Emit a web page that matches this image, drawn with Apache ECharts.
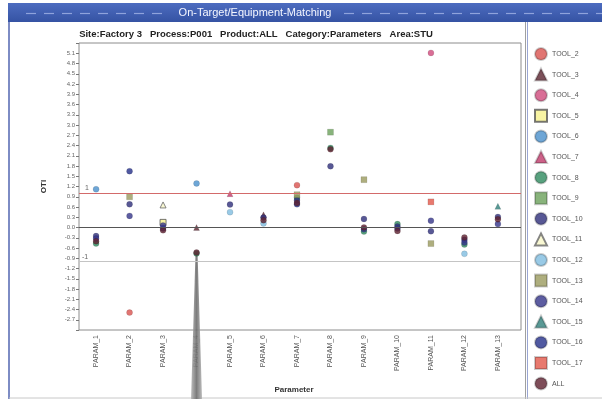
<!DOCTYPE html>
<html>
<head>
<meta charset="utf-8">
<script src="https://cdn.jsdelivr.net/npm/echarts@6/dist/echarts.min.js"></script>
<style>
  html, body { margin: 0; padding: 0; background: #fff; }
  #main { width: 602px; height: 399px; }
</style>
</head>
<body>
<div id="main"></div>
<script>
// Parameter categories on the x axis
const params = ['PARAM_1', 'PARAM_2', 'PARAM_3', 'PARAM_4', 'PARAM_5', 'PARAM_6', 'PARAM_7',
  'PARAM_8', 'PARAM_9', 'PARAM_10', 'PARAM_11', 'PARAM_12', 'PARAM_13'];

// OTI per tool, one slot per parameter (null = no value)
const tool2  = [null, -2.49, null, null, null, null, 1.24, null, null, null, null, null, null];
const tool3  = [null, null, null, 0.00, null, 0.37, null, null, null, null, null, null, null];
const tool4  = [null, null, null, null, null, null, null, null, null, null, 5.11, null, null];
const tool5  = [null, null, 0.15, null, null, null, null, null, null, null, null, null, null];
const tool6  = [1.12, null, null, 1.29, null, null, null, null, null, null, null, null, null];
const tool7  = [null, null, null, null, 0.99, null, null, null, null, null, null, null, null];
const tool8  = [-0.47, null, null, -0.76, null, null, 0.87, 2.33, -0.12, 0.10, null, -0.50, null];
const tool9  = [null, null, null, null, null, null, null, 2.79, null, null, null, null, null];
const tool10 = [-0.25, 0.68, -0.03, null, 0.67, 0.29, 0.80, 1.79, 0.25, 0.03, -0.11, -0.36, 0.31];
const tool11 = [null, null, 0.66, null, null, null, null, null, null, null, null, null, null];
const tool12 = [null, null, null, null, 0.45, 0.12, null, null, null, null, null, -0.77, null];
const tool13 = [null, 0.90, null, null, null, null, 0.96, null, 1.40, null, -0.47, null, null];
const tool14 = [-0.32, 0.34, 0.06, null, null, null, null, null, -0.05, -0.03, 0.20, -0.44, 0.10];
const tool15 = [null, null, null, null, null, null, null, null, null, null, null, null, 0.62];
const tool16 = [null, 1.65, null, null, null, null, 0.68, null, null, null, null, null, null];
const tool17 = [null, null, null, null, null, null, null, null, null, null, 0.75, null, null];
const toolAll = [-0.40, null, -0.08, -0.73, null, 0.21, 0.72, 2.29, 0.00, -0.10, null, -0.29, 0.24];

// Y tick step, labelled range and the reference limits
const yStep = 0.3;
const yLabelLow = -2.7;
const yLabelHigh = 5.1;
const upperLimit = 1;
const target = 0;
const lowerLimit = -1;

const seriesDefs = [
  { name: 'TOOL_2',  values: tool2,  symbol: 'circle',   color: '#d9534f' },
  { name: 'TOOL_3',  values: tool3,  symbol: 'triangle', color: '#5b2430' },
  { name: 'TOOL_4',  values: tool4,  symbol: 'circle',   color: '#cf4a7c' },
  { name: 'TOOL_5',  values: tool5,  symbol: 'rect',     color: '#f6f18c', border: '#555' },
  { name: 'TOOL_6',  values: tool6,  symbol: 'circle',   color: '#4a90cc' },
  { name: 'TOOL_7',  values: tool7,  symbol: 'triangle', color: '#c03a6a' },
  { name: 'TOOL_8',  values: tool8,  symbol: 'circle',   color: '#2e8a5e' },
  { name: 'TOOL_9',  values: tool9,  symbol: 'rect',     color: '#6aa05a' },
  { name: 'TOOL_10', values: tool10, symbol: 'circle',   color: '#2e2e7a' },
  { name: 'TOOL_11', values: tool11, symbol: 'triangle', color: '#f8f6c8', border: '#666' },
  { name: 'TOOL_12', values: tool12, symbol: 'circle',   color: '#7fbde0' },
  { name: 'TOOL_13', values: tool13, symbol: 'rect',     color: '#9a9a5e' },
  { name: 'TOOL_14', values: tool14, symbol: 'circle',   color: '#34348a' },
  { name: 'TOOL_15', values: tool15, symbol: 'triangle', color: '#2f7f7a' },
  { name: 'TOOL_16', values: tool16, symbol: 'circle',   color: '#24308a' },
  { name: 'TOOL_17', values: tool17, symbol: 'rect',     color: '#e2574a' },
  { name: 'ALL',     values: toolAll, symbol: 'circle',  color: '#5e2030' }
];

const FONT = '"Liberation Sans", Arial, sans-serif';

function toPoints(values) {
  const out = [];
  values.forEach((v, i) => { if (v !== null) out.push([i + 1, v]); });
  return out;
}

const series = seriesDefs.map(d => ({
  name: d.name,
  type: 'scatter',
  symbol: d.symbol,
  symbolSize: 6,
  data: toPoints(d.values),
  itemStyle: {
    color: d.color,
    borderColor: d.border || 'rgba(0,0,0,0.25)',
    borderWidth: d.border ? 1 : 0.5
  },
  emphasis: { disabled: true }
}));

// Limit / target lines
series.unshift({
  name: 'limits',
  type: 'scatter',
  data: [],
  silent: true,
  markLine: {
    silent: true,
    symbol: 'none',
    animation: false,
    data: [
      { yAxis: upperLimit, lineStyle: { color: '#d36a6a', width: 1, type: 'solid' },
        label: { show: true, formatter: '1', position: 'insideStartTop', distance: [6, 2], color: '#666', fontSize: 7, fontFamily: FONT } },
      { yAxis: target, lineStyle: { color: '#555', width: 1, type: 'solid' },
        label: { show: false } },
      { yAxis: lowerLimit, lineStyle: { color: '#c4c4c4', width: 1, type: 'solid' },
        label: { show: true, formatter: '-1', position: 'insideStartTop', distance: [3, 1], color: '#666', fontSize: 7, fontFamily: FONT } }
    ]
  }
});

const chart = echarts.init(document.getElementById('main'), null, { renderer: 'canvas' });

chart.setOption({
  animation: false,
  backgroundColor: '#fff',
  textStyle: { fontFamily: FONT },
  grid: {
    left: 79, top: 43, width: 442, height: 290,
    show: true, borderColor: '#8c8c8c', borderWidth: 1, backgroundColor: '#fff'
  },
  legend: {
    data: seriesDefs.map(d => d.name),
    orient: 'vertical',
    left: 534,
    top: 47,
    height: 352,
    padding: 0,
    itemWidth: 12,
    itemHeight: 12,
    itemGap: 6.6,
    selectedMode: false,
    textStyle: { fontSize: 7, color: '#555', fontFamily: FONT }
  },
  xAxis: {
    type: 'value',
    min: 0.49,
    max: 13.69,
    name: 'Parameter',
    nameLocation: 'middle',
    nameGap: 56,
    nameTextStyle: { fontSize: 8, fontWeight: 'bold', color: '#333', padding: [0, 12, 0, 0] },
    axisLine: { show: false },
    axisTick: { show: false },
    splitLine: { show: false },
    axisLabel: {
      customValues: params.map((p, i) => i + 1),
      formatter: v => params[Math.round(v) - 1] || '',
      rotate: 90,
      fontSize: 7,
      color: '#555',
      margin: 5
    }
  },
  yAxis: {
    type: 'value',
    min: -3.0,
    max: 5.4,
    interval: yStep,
    name: 'OTI',
    nameLocation: 'middle',
    nameRotate: 90,
    nameGap: 31,
    nameTextStyle: { fontSize: 8, fontWeight: 'bold', color: '#333' },
    axisLine: { show: false },
    axisTick: { show: true, length: 3, lineStyle: { color: '#777' } },
    splitLine: { show: false },
    axisLabel: {
      fontSize: 6,
      color: '#666',
      margin: 4,
      formatter: v => (v < yLabelLow - 0.01 || v > yLabelHigh + 0.01) ? ''
        : (Math.abs(v) < 1e-9 ? 0 : v).toFixed(1)
    }
  },
  series: series
});

// Frame, title bar, filter caption and the selection wedge under PARAM_4
const p4 = chart.convertToPixel({ gridIndex: 0 }, [4, toolAll[3]]);
const H = 399;
const dashes = [];
function addDashes(x0, x1, idPrefix) {
  let k = 0;
  for (let x = x0; x < x1; x += 18) {
    dashes.push({
      type: 'line', id: idPrefix + k++, silent: true, z: 11,
      shape: { x1: x, y1: 13.5, x2: Math.min(x + 10, x1), y2: 13.5 },
      style: { stroke: '#8fa3dc', lineWidth: 1.2 }
    });
  }
}
addDashes(26, 168, 'dl');
addDashes(344, 602, 'dr');

chart.setOption({
  graphic: [
    { type: 'rect', id: 'titlebar', silent: true, z: 10,
      shape: { x: 8, y: 3, width: 594, height: 19 },
      style: { fill: new echarts.graphic.LinearGradient(0, 0, 0, 1, [
        { offset: 0, color: '#4d6cc0' }, { offset: 1, color: '#3553a3' }]) } },
    ...dashes,
    { type: 'text', id: 'title', silent: true, z: 12,
      style: { text: 'On-Target/Equipment-Matching', x: 255, y: 12.5, align: 'center', verticalAlign: 'middle',
        fill: '#f4f6ff', font: '11px ' + FONT } },
    { type: 'text', id: 'filters', silent: true,
      style: { text: 'Site:Factory 3   Process:P001   Product:ALL   Category:Parameters   Area:STU',
        x: 256, y: 34, align: 'center', verticalAlign: 'middle', fill: '#222',
        font: 'bold 9.5px ' + FONT } },
    { type: 'line', id: 'leftedge', silent: true,
      shape: { x1: 9, y1: 22, x2: 9, y2: H }, style: { stroke: '#7d8cc4', lineWidth: 2 } },
    { type: 'line', id: 'divider1', silent: true,
      shape: { x1: 525.5, y1: 22, x2: 525.5, y2: H }, style: { stroke: '#a0a0a0', lineWidth: 1 } },
    { type: 'line', id: 'divider2', silent: true,
      shape: { x1: 527.5, y1: 22, x2: 527.5, y2: H }, style: { stroke: '#9aa6d4', lineWidth: 1 } },
    { type: 'line', id: 'bottomedge', silent: true,
      shape: { x1: 9, y1: 398, x2: 602, y2: 398 }, style: { stroke: '#c8c8c8', lineWidth: 1 } },
    { type: 'polygon', id: 'wedge', silent: true, z: 1,
      shape: { points: [[p4[0] - 1, p4[1]], [p4[0] + 1, p4[1]], [p4[0] + 5.5, H], [p4[0] - 5.5, H]] },
      style: { fill: new echarts.graphic.LinearGradient(0, 0, 1, 0, [
        { offset: 0, color: '#b5b5b5' }, { offset: 0.5, color: '#6e6e6e' }, { offset: 1, color: '#b5b5b5' }]),
        opacity: 0.9 } }
  ]
});
</script>
</body>
</html>
